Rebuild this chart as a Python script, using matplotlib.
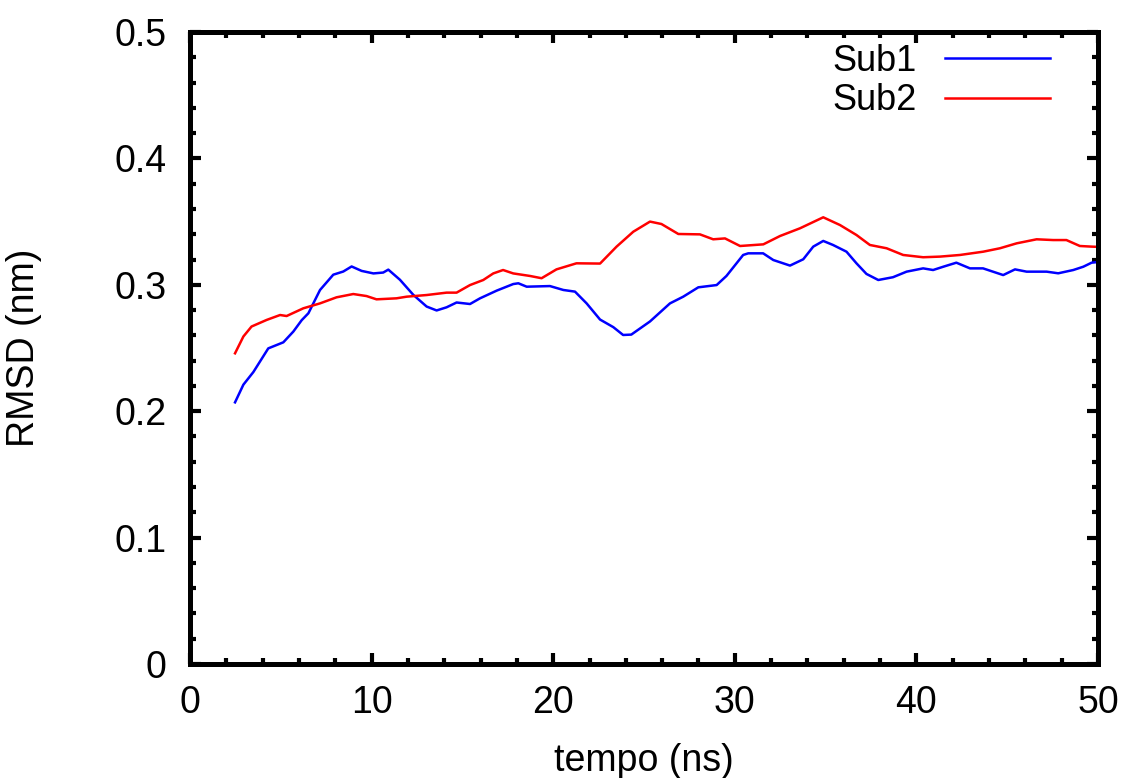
"""
RMSD ao longo do tempo para Sub1 e Sub2 (estilo gnuplot).
"""

import matplotlib
matplotlib.use("Agg")
import matplotlib.pyplot as plt
from matplotlib.ticker import MultipleLocator, FuncFormatter

# Sub1 (azul)
t_sub1 = [2.48, 2.94, 3.49, 4.31, 5.14, 5.69, 6.15, 6.52, 7.16, 7.89, 8.44, 8.9,
          9.45, 10.1, 10.64, 10.92, 11.56, 12.3, 13.03, 13.58, 14.13, 14.68, 15.42,
          15.97, 16.89, 17.8, 18.08, 18.54, 19.82, 20.56, 21.2, 21.84, 22.58, 23.31,
          23.85, 24.3, 25.33, 26.43, 27.16, 27.99, 29.0, 29.54, 30.46, 30.74, 31.56,
          32.12, 33.04, 33.77, 34.32, 34.87, 35.41, 36.15, 36.7, 37.25, 37.9, 38.71,
          39.46, 40.37, 40.92, 41.48, 42.2, 42.95, 43.67, 44.78, 45.43, 46.07, 47.17,
          47.81, 48.64, 49.19, 49.65, 50.0]
rmsd_sub1 = [0.207, 0.221, 0.231, 0.2497, 0.2545, 0.263, 0.272, 0.2775, 0.2959, 0.308,
             0.3105, 0.3145, 0.311, 0.309, 0.3097, 0.312, 0.304, 0.292, 0.2828, 0.2797,
             0.2822, 0.286, 0.2848, 0.2893, 0.2954, 0.3006, 0.3012, 0.2985, 0.299, 0.2959,
             0.2946, 0.2853, 0.2725, 0.2665, 0.2603, 0.2606, 0.271, 0.2853, 0.2906, 0.298,
             0.2998, 0.307, 0.3236, 0.3249, 0.3249, 0.3196, 0.3152, 0.3202, 0.3302, 0.3347,
             0.3315, 0.3262, 0.317, 0.3086, 0.3038, 0.306, 0.3104, 0.313, 0.3117, 0.3143,
             0.3175, 0.313, 0.313, 0.3077, 0.3122, 0.3104, 0.3104, 0.3091, 0.3117, 0.3143,
             0.3175, 0.318]

# Sub2 (vermelho)
t_sub2 = [2.48, 2.94, 3.39, 4.22, 4.96, 5.32, 6.24, 7.16, 8.07, 8.99, 9.72, 10.27,
          11.37, 11.93, 13.03, 14.13, 14.68, 15.42, 16.15, 16.7, 17.24, 17.8, 18.72,
          19.36, 20.18, 21.28, 22.58, 23.49, 24.41, 25.33, 25.96, 26.89, 28.08, 28.81,
          29.46, 30.29, 31.57, 32.49, 33.59, 34.87, 35.79, 36.7, 37.44, 38.36, 39.27,
          40.37, 41.3, 42.4, 43.68, 44.6, 45.52, 46.62, 47.53, 48.26, 49.0, 49.65, 50.0]
rmsd_sub2 = [0.2458, 0.2591, 0.267, 0.2722, 0.2761, 0.2753, 0.2814, 0.2853, 0.2901,
             0.2927, 0.2911, 0.2885, 0.2893, 0.2906, 0.2919, 0.2938, 0.2938, 0.2998,
             0.3038, 0.309, 0.3117, 0.309, 0.307, 0.3052, 0.3122, 0.317, 0.3168, 0.3302,
             0.342, 0.35, 0.3481, 0.3402, 0.3399, 0.336, 0.3367, 0.3307, 0.332, 0.3386,
             0.3447, 0.3534, 0.3473, 0.3394, 0.3315, 0.3289, 0.3236, 0.3218, 0.3223,
             0.3236, 0.3262, 0.3289, 0.3328, 0.336, 0.3354, 0.3354, 0.3307, 0.3302, 0.33]

plt.rcParams["font.family"] = ["Liberation Sans", "DejaVu Sans"]
FS = 27

fig = plt.figure(figsize=(11.25, 7.78), dpi=100)
ax = fig.add_axes([190 / 1125, 1 - 664 / 778, 908 / 1125, 632 / 778])

ax.plot(t_sub1, rmsd_sub1, color="#0000ff", linewidth=1.8, label="Sub1")
ax.plot(t_sub2, rmsd_sub2, color="#ff0000", linewidth=1.8, label="Sub2")

ax.set_xlim(0, 50)
ax.set_ylim(0, 0.5)
ax.xaxis.set_major_locator(MultipleLocator(10))
ax.xaxis.set_minor_locator(MultipleLocator(2))
ax.yaxis.set_major_locator(MultipleLocator(0.1))
ax.yaxis.set_minor_locator(MultipleLocator(0.02))
ax.yaxis.set_major_formatter(FuncFormatter(lambda v, p: "0" if abs(v) < 1e-9 else f"{v:.1f}"))

for s in ax.spines.values():
    s.set_linewidth(3.6)
ax.tick_params(which="both", direction="in", top=True, right=True, width=3, labelsize=FS)
ax.tick_params(which="major", length=8)
ax.tick_params(which="minor", length=4.5)
ax.tick_params(axis="x", which="major", pad=15)
ax.tick_params(axis="y", which="major", pad=17)

ax.set_xlabel("tempo (ns)", fontsize=FS)
ax.xaxis.set_label_coords(0.5, -0.125)
ax.set_ylabel("RMSD (nm)", fontsize=FS)
ax.yaxis.set_label_coords(-0.163, 0.5)

ax.legend(loc="upper right", bbox_to_anchor=(1050 / 1125, 1 - 44 / 778),
          bbox_transform=fig.transFigure, frameon=False, markerfirst=False,
          fontsize=26, handlelength=2.9, handletextpad=0.78, labelspacing=0.12,
          borderpad=0, borderaxespad=0)

fig.savefig("out.png", dpi=100)
